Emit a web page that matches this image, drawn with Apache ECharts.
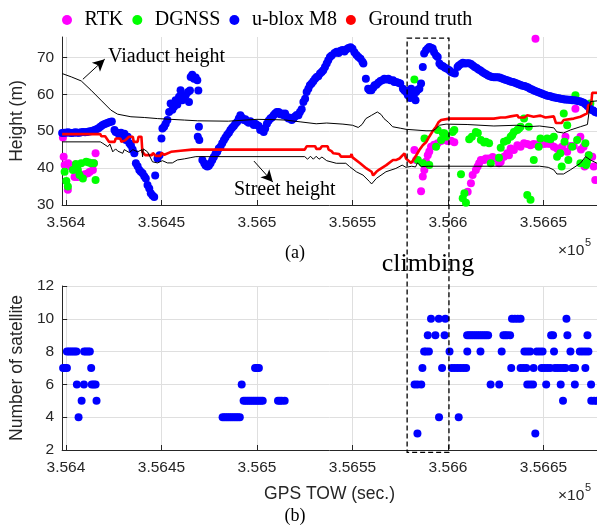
<!DOCTYPE html>
<html><head><meta charset="utf-8">
<script src="https://cdn.jsdelivr.net/npm/echarts@6/dist/echarts.min.js"></script>
<style>html,body{margin:0;padding:0;background:#fff}#c{width:597px;height:527px}</style>
</head><body><div id="c"></div>
<script>
const TOW_BASE = 356400;            // GPS TOW offset (s); data below are seconds after it
const xTickValues = [356400, 356450, 356500, 356550, 356600, 356650];
const heightTicks = [30, 40, 50, 60, 70];
const climbStart = 178.6, climbEnd = 200.5;   // climbing interval (s after base)

const rtk = [
[-1.6,48.3],[-1.2,43.1],[-0.7,40.8],[1,34.1],[1.2,41.3],[2.5,40.4],[3.6,40.6],[4.5,37.6],[5.5,37.6],[6.25,37.6],[7.3,37.8],[8.85,38.1],[9.9,38.3],[11.5,38.6],[12.5,39],[14.1,39.5],[14.6,41.3],[15.5,44],
[182.4,44.9],[183.3,42.2],[185.9,33.7],[186.8,37.7],[187.6,39.5],[188.5,41.8],[189.4,43.5],[190.2,44.5],[191.1,45.8],[192.7,46.3],[194.6,46.7],[196.4,47.3],[197.9,47.7],[199.8,47.3],[201.6,47.4],[203.3,47],
[210.3,33.6],[212,35.9],[212.9,38.1],[214.6,39.5],[215.5,40.4],[216.3,41.3],[217.2,42.2],[218.9,42.2],[219.8,42.6],[221.5,42.6],[223.4,43],[225.5,42.5],[226.7,41.3],[227.6,41.7],[229.3,43.1],[231,44],[231.9,43.5],[232.8,45.3],[234.5,44.9],[236.3,46.2],[238,45.8],[239.8,46.7],[241.5,46.5],[243.2,46.2],[244.8,46.5],[246.7,46.4],[248.4,47.1],[250.1,46.5],[251.9,46.6],[253.6,46.5],[255.4,45.8],[257.1,45.3],[258,44.9],[259.7,45.8],[261.5,48.5],[262.4,44.4],[264.1,46],[265.8,46],[266.7,56.1],[269.3,48.5],[269.6,45],[271,45.8],[271.5,40.4],[273.7,43.5],[275.5,43.1],[276.3,40.4],[277.1,36.8],[245.8,75]
];

const dgnss = [
[-2.1,41.7],[-0.7,39],[0.2,36.5],[1,35],[3.6,39.5],[5.2,41.1],[6.25,39.5],[7.1,38.1],[8,41.3],[8.85,37.2],[10.6,41.7],[12,41.5],[13.2,41.3],[14.6,41.3],[15.5,36.8],
[182.4,64],[184.2,42.2],[186.8,41.3],[187.7,48],[190.2,40.8],[193.75,45.8],[194.6,50.3],[196.4,47.6],[197.3,49.4],[198.1,49.4],[199,48.5],[202.4,49.8],[203.3,50.3],[206.8,38.3],[207.7,31.8],[208.6,33.2],[209.4,30.6],[211.1,47.8],[212.5,48.5],[214.6,49.8],[215.6,49.5],[217.2,47.6],[218.9,46.9],[219.8,47.1],[221.5,46.7],[222.4,41.3],[226.7,42.8],[227.6,45.5],[229.3,47.1],[231,47.5],[232.8,48.5],[233.6,48.9],[234.5,49.8],[236.3,50.3],[237.2,50.7],[238,51.2],[239.8,53.4],[241.5,32.7],[242.3,51.2],[243.2,31.4],[244.9,42.2],[247.5,45.8],[248.4,48],[251.9,48],[253.6,47.8],[255.4,48.5],[257.1,43.1],[258.8,44],[259.5,40.4],[260.6,54.8],[261,47.1],[262.4,51.6],[263,42.2],[265,45.8],[266.7,59.7],[267.6,47.6],[269.3,41.3],[271.9,46.7],[272.3,40.8],[272.8,41.7],[273.7,43.5],[274.5,57.5]
];

const ubloxM8 = [
[-2,49.5],[-1,49.6],[0,49.6],[1,49.7],[2,49.6],[3,49.5],[4,49.6],[5,49.7],[6,49.6],[7,49.6],[8,49.7],[9,49.8],[10,49.7],[11,49.8],[12,49.9],[13,50],[14,50.1],[15,50.3],[16,50.5],
[17,50.8],[18,51.2],[19,51.6],[20,51.9],[21,52.1],[22,52.3],[23,52.5],[24,52.6],
[25.4,50.3],[26,49.8],[27.1,49.5],[28.1,48.8],[28.8,49.6],[29.7,48.5],[30.6,49.3],[31.4,47.6],[32.3,48.5],[33.2,46.7],[34,46.2],[34.9,45],[35.8,44],[36.6,41.3],[37.5,40.5],[38.4,39.5],[39.2,39],[40.1,38.6],[41,37.8],[41.8,37.2],[42.7,35.4],[43.6,34.5],[44.4,33.2],[45.3,32.6],[46.2,32.2],[46.7,38],
[47.9,42.6],[49,43.5],[50,48],[50.5,50.7],[51.4,51.2],[52.2,52],[53.1,53],[54,55.2],[54.8,57.5],[55.7,55.8],[56.6,56.6],[57.4,58.4],[58.3,57.2],[59.2,59.3],[60,61.1],[60.9,58.4],[61.8,59.5],[62.7,59.7],[63.9,60.6],[64.4,57.9],[64.9,61],[65.3,64.7],[66.1,65.3],[67,64.2],[67.9,64.5],[68.75,63.8],[69.3,61],[69.6,51.2],[69,48.5],[69.8,47.6],
[71.4,42.2],[72.4,41.3],[73.1,40.7],[74,40.4],[74.8,40.6],[75.7,41.3],[76.6,42.2],[77.4,43],[78.3,43.9],[79.2,44.4],[80,45.3],[80.9,45.8],[81.8,46.7],[82.7,47.6],[83.5,48.3],[84.4,49],[85.3,49.6],[86.1,50.3],[87,50.9],[87.9,51.4],[88.7,52],[89.6,52.5],[90.5,53.4],[91.3,54.3],[92.2,53.6],[93.1,53],[93.9,53.2],[94.8,52.6],[95.7,52.3],[96.5,52.7],[97.4,52.3],[98.3,51.7],[99.1,52],[100,51.7],[100.9,51.4],[101.7,50.3],[102.6,50.6],[103.5,49.8],[104.3,50.7],[105.2,52],[106.1,52.8],[107,53.4],[107.8,53.7],[108.7,54.3],[109.5,54.8],[110.4,55.2],[111.3,55.2],[112.1,54.6],[113,54.8],[113.9,54.3],[114.7,54.8],[115.6,53.9],[116.5,53.4],[117.3,53.6],[118.2,53],[119.1,53.4],[119.9,54],[120.8,54.4],[121.7,54.3],[122.5,55.2],[123.4,55.9],[124.3,57.9],[125.2,58.8],[126,60.6],[126.9,61.5],[127.7,62.4],[128.6,62.9],[129.5,63.5],[130.4,64.2],[131.25,64.7],[132.1,64.9],[133,65.6],[133.9,66],[134.7,66.5],[135.6,67.4],[136.5,68.3],[137.3,69.2],[138.2,70.1],[139.1,70.5],
[140.6,71.2],[141.7,71.5],[142.7,71.2],[143.75,71.8],[144.8,72],[145.8,71.6],[146.9,72.2],[147.9,72.5],[149,72.7],[150,72.3],[151,71.4],[152.1,70.6],[153.1,70.1],[154.2,69.6],[155.2,68.8],[155.7,68.3],[157,64.2],[158.2,61.5],[158.9,61.1],[159.9,61.1],[160.9,61.8],[161.6,62.4],[162.5,62.6],[163.5,63.1],[164.6,63.6],[165.6,63.8],[166.7,64.2],[167.7,64],[168.75,64.2],[169.8,63.8],[171.2,63.8],[171.9,63.3],[172.9,63.3],[174,63.1],[175,62.9],[176.4,61.5],[177.2,61],[178.1,60.6],[179,59.7],[179.7,61],[180.2,59],[180.7,61.5],[181.6,60.2],[182,59.4],[183,58.4],[183.3,60.6],[184.2,61.2],[185,61.5],[185.9,62.9],[186.8,67.4],[187.5,71],[188.5,71.9],[189.4,72.4],[190.2,72.8],[191.1,72.6],[192,72.4],[192.7,71.4],[193.75,70.5],[194.6,70.1],[195.5,68.3],[196.4,67.8],[197.4,67.6],[198.4,67.2],[199.5,66.9],[200.7,66.5],[201.6,66],[202.6,65.8],[203.6,65.6],[205,67.4],[205.7,67.8],[206.8,68.2],[207.8,68.5],[208.9,68.3],
[210,68.4],[211,68.4],[212,68.2],[213,67.8],[214,67.4],[215,67.1],[216,66.7],[217,66.4],[218,66],[219,65.7],[220,65.4],[221,65.1],[222,64.9],[223,64.7],[224,64.6],[225,64.6],[226,64.6],[227,64.5],[228,64.3],[229,64.1],[230,63.9],[231,63.8],[232,63.6],[233,63.4],[234,63.3],[235,63.1],[236,62.9],[237,62.7],[238,62.5],[239,62.3],[240,62.2],[241,62],[242,61.8],[243,61.5],[244,61.3],[245,61],[246,60.8],[247,60.6],[248,60.4],[249,60.2],[250,60],[251,59.8],[252,59.6],[253,59.5],[254,59.4],[255,59.2],[256,59.1],[257,59],[258,58.9],[259,58.8],[260,58.7],[261,58.6],[262,58.6],[263,58.5],[264,58.5],[265,58.4],[266,58.4],[267,58.3],[268,58.2],[269,58.1],[270,57.9],[271,57.7],[272,57.3],[273,56.8],[274,56.3],[275,55.8],[276,55.6],[277,55.2],[278,55]
];

const groundTruth = [
[-2,49.2],[18,49.2],[18.5,48.6],[20.5,48.6],[21,49.1],[21.5,48.6],[22.5,47.1],[25.5,47.1],[26,48],[28.5,48],[29,47.1],[31,47.5],[32,47.1],[33,48.5],[35,48.5],[35.5,47.1],[37.5,47.1],[38,48.5],[39.5,48.5],[40,44.4],[41,44.4],[41.5,43.5],[45,43.5],[45.5,44.1],[46.5,44.1],[47,43.3],[49.5,43.3],[50,44.1],[51,44.1],[51.5,43.6],[55,44.4],[60,44.7],[66,45],[125,45],[126,45.9],[130.5,45.9],[131,45.2],[133,45.2],[134,45.9],[137,45.9],[137.5,45],[139,44.6],[140,44],[143,43.8],[144,43.1],[149,43.1],[149.5,43.8],[150,42.9],[151,42.6],[154,41.3],[157.3,39.9],[160,39],[160.8,38],[162.5,39],[164,39.6],[167.7,40.8],[171.2,42.2],[173,42.2],[174.6,42.6],[177.2,44],[178,42.6],[179,42.6],[180.7,41.4],[182.4,42.6],[185,44.9],[186.8,46.2],[188.5,47],[190.2,48.5],[192,50],[193.75,51.2],[195,52.4],[196.4,53],[200.7,53.4],[224,53.4],[227.6,53.7],[230,53.7],[232.8,54],[236.3,54.3],[237,53.7],[240,53.7],[241.5,54.3],[244.8,53.9],[248.4,54.2],[251,53.7],[255.4,54],[256.5,52.2],[259.5,52.2],[260.6,53],[265.8,53.4],[269.3,53.9],[272.8,54.8],[273.4,57],[275,57.4],[275.5,60.4],[278,60.4]
];

const viaductHeight = [
[-2,65.6],[2.8,64.7],[8,63.6],[13.1,61.1],[18.3,58.4],[23.5,55.7],[27,54.6],[34,53.9],[41,53.7],[48,53.4],[55,53.2],[62,53.0],[69,52.8],[85,52.7],[100,53.2],[110,53.1],[115,53],[123,52.5],[131,52.0],[136.5,52.2],[145,51.9],[150,51.6],[153,51.0],[155,51.8],[157,53.4],[160,54.3],[163,55.2],[165,54.5],[166.5,53.4],[169,52.3],[171,51.2],[175,50.8],[178,50.5],[188.5,50.1],[192,50.1],[193.5,50.6],[195.5,51.6],[199,51.9],[210,51.8],[224,51.4],[236,51.6],[241.5,51.2],[248,51.4],[255.4,50.9],[257,49.8],[260.5,49.5],[264,50.3],[269.3,51.2],[273,51.8],[274.5,58],[278,58.2]
];

const streetHeight = [
[-2,47.1],[18,47.1],[19.3,46.7],[21.9,45.8],[23,46.5],[24.5,44.4],[26,45.2],[27.1,44.6],[29.7,44],[30.5,45],[33.2,44.2],[35,45],[37.5,44.4],[39.8,45],[40.1,43],[40.5,45.2],[42.7,44.4],[45.3,41.7],[47.9,41.4],[50.5,42],[53.1,41.4],[55.7,41.4],[58.3,42.2],[62,42.5],[65,42.8],[68,43.1],[125,43.1],[126.5,42.4],[128,43.2],[129.5,42.4],[131,43.2],[132.5,42.4],[134,43],[136.5,42],[141.5,41.3],[146.5,41.3],[148.5,40.4],[152,39],[155.5,38.1],[159,36.3],[160,35.7],[162.5,37.2],[167.5,39],[172.7,39.9],[176,40.8],[178,40.2],[181,40.5],[183,40.3],[184,41.4],[186,40.4],[190,40.5],[248,40.5],[252.5,40.2],[255.4,39.5],[257,38.4],[260.5,38.4],[264,39.5],[269.3,41.3],[272,43.1],[274.5,42.2],[278,41.3]
];

const satellites = [
[-2.5,7],[-1.5,7],[-0.5,7],[0.5,7],[13.2,7],
[0.5,8],[1.5,8],[2.5,8],[3.5,8],[4.5,8],[5.5,8],[9.5,8],[10.5,8],[11.5,8],[12.5,8],
[5.7,6],[9.4,6],[13.5,6],[14.5,6],[15.5,6],[8.2,5],[16,5],[6.6,4],
[82,4],[83,4],[84,4],[85,4],[86,4],[87,4],[88,4],[89,4],[90,4],[91,4],[92,6],
[93,5],[94,5],[95,5],[96,5],[97,5],[98,5],[99,5],[100,5],[101,5],[102,5],[103,5],[111,5],[112,5],[113,5],[114.5,5],
[99,7],[100,7],[101,7],
[191.1,10],[195.2,10],[198.6,10],[233.5,10],[235,10],[236.5,10],[238,10],[262,10],
[189.4,9],[193.4,9],[198.2,9],[210,9],[211,9],[212,9],[213,9],[214,9],[215,9],[216,9],[217,9],[218,9],[219,9],[220,9],[221,9],[229,9],[230,9],[231,9],[232.5,9],[254,9],[255,9],[262.5,9],[273,9],
[187.5,8],[188.5,8],[190,8],[200.8,8],[210.1,8],[217,8],[228.1,8],[240,8],[241.5,8],[243,8],[246.5,8],[248,8],[249.5,8],[255.5,8],[264.1,8],[269,8],[270.5,8],[272,8],[273.5,8],
[186.6,7],[196.9,7],[202,7],[203.5,7],[205,7],[206.5,7],[208,7],[209.5,7],[233.1,7],[238,7],[239.5,7],[241,7],[244.8,7],[249,7],[250.5,7],[252,7],[253.5,7],[256,7],[257.5,7],[259,7],[260.5,7],[261.5,7],[265,7],[266.5,7],[271.9,7],
[182.5,6],[184,6],[186,6],[222.3,6],[226.8,6],[241.5,6],[243,6],[244.5,6],[251.4,6],[259,6],[266.4,6],[274.9,6],
[260.2,5],[275,5],[276.5,5],[278,5],
[195.3,4],[205.6,4],[184,3],[245.7,3]
];

const abs = arr => arr.map(([t, v]) => [TOW_BASE + t, v]);
const SANS = 'Liberation Sans', SERIF = 'Liberation Serif';
const INK = '#262626', GRIDC = '#dfdfdf';

function xAxisCfg(gridIndex, extra) {
  return Object.assign({
    type: 'value', gridIndex, min: TOW_BASE - 2, max: TOW_BASE + 278,
    axisLine: { show: true, onZero: false, lineStyle: { color: INK, width: 1 } },
    axisTick: { show: true, inside: true, length: 5, customValues: xTickValues, lineStyle: { color: INK } },
    axisLabel: { customValues: xTickValues, color: INK, fontSize: 15.5, fontFamily: SANS, margin: 10,
      formatter: v => String(+(v / 1e5).toFixed(4)) },
    splitLine: { show: true, lineStyle: { color: GRIDC, width: 1 } }
  }, extra || {});
}
function yAxisCfg(gridIndex, extra) {
  return Object.assign({
    type: 'value', gridIndex,
    axisLine: { show: true, lineStyle: { color: INK, width: 1 } },
    axisTick: { show: true, inside: true, length: 5, lineStyle: { color: INK } },
    axisLabel: { color: INK, fontSize: 15.5, fontFamily: SANS, margin: 8 },
    splitLine: { show: true, lineStyle: { color: GRIDC, width: 1 } },
    nameLocation: 'middle', nameGap: 29,
    nameTextStyle: { color: INK, fontSize: 17.5, fontFamily: SANS }
  }, extra || {});
}

const chart = echarts.init(document.getElementById('c'), null, { renderer: 'canvas' });
const dot = (name, color, data, z) => ({
  name, type: 'scatter', xAxisIndex: 0, yAxisIndex: 0, data: abs(data),
  symbol: 'circle', symbolSize: 8, itemStyle: { color, opacity: 1 }, z, silent: true
});
const arrowLine = (from, to) => ({
  silent: true, symbol: ['none', 'arrow'], symbolSize: [9, 12],
  lineStyle: { color: '#000', width: 1, type: 'solid' }, label: { show: false },
  data: [[{ coord: [TOW_BASE + from[0], from[1]] }, { coord: [TOW_BASE + to[0], to[1]] }]]
});

chart.setOption({
  animation: false,
  backgroundColor: '#fff',
  grid: [
    { left: 59, right: 0, top: 37, height: 168, containLabel: false },
    { left: 59, right: 0, top: 286, height: 164, containLabel: false }
  ],
  legend: {
    left: 57, top: 5, itemWidth: 25, itemHeight: 10, itemGap: 9,
    textStyle: { fontFamily: SERIF, fontSize: 20, color: '#000' },
    data: [
      { name: 'RTK', icon: 'circle' }, { name: 'DGNSS', icon: 'circle' },
      { name: 'u-blox M8', icon: 'circle' }, { name: 'Ground truth', icon: 'circle' }
    ]
  },
  xAxis: [
    xAxisCfg(0),
    xAxisCfg(1, { name: 'GPS TOW (sec.)', nameLocation: 'middle', nameGap: 35,
      nameTextStyle: { color: INK, fontSize: 17.5, fontFamily: SANS } })
  ],
  yAxis: [
    yAxisCfg(0, { min: 30, max: 75.5, name: 'Height (m)',
      axisTick: { show: true, inside: true, length: 5, customValues: heightTicks, lineStyle: { color: INK } },
      axisLabel: { customValues: heightTicks, color: INK, fontSize: 15.5, fontFamily: SANS, margin: 8 } }),
    yAxisCfg(1, { min: 2, max: 12, interval: 2, name: 'Number of satellite' })
  ],
  series: [
    dot('RTK', '#ff00ff', rtk, 2),
    dot('DGNSS', '#00ff00', dgnss, 3),
    dot('u-blox M8', '#0000ff', ubloxM8, 4),
    { name: 'Ground truth', type: 'line', xAxisIndex: 0, yAxisIndex: 0, data: abs(groundTruth),
      showSymbol: false, symbol: 'circle', itemStyle: { color: '#ff0000' },
      lineStyle: { color: '#ff0000', width: 2.6 }, z: 5, silent: true },
    { name: 'Viaduct height', type: 'line', xAxisIndex: 0, yAxisIndex: 0, data: abs(viaductHeight),
      showSymbol: false, lineStyle: { color: '#000', width: 1 }, z: 6, silent: true,
      markLine: arrowLine([8.85, 64.05], [20.3, 69.5]) },
    { name: 'Street height', type: 'line', xAxisIndex: 0, yAxisIndex: 0, data: abs(streetHeight),
      showSymbol: false, lineStyle: { color: '#000', width: 1 }, z: 6, silent: true,
      markLine: arrowLine([98.4, 41.9], [108.3, 36.2]) },
    { name: 'Satellites', type: 'scatter', xAxisIndex: 1, yAxisIndex: 1, data: abs(satellites),
      symbol: 'circle', symbolSize: 8, itemStyle: { color: '#0000ff', opacity: 1 }, silent: true }
  ]
});

const pL = chart.convertToPixel({ gridIndex: 0 }, [TOW_BASE + climbStart, 75.2]);
const pR = chart.convertToPixel({ gridIndex: 0 }, [TOW_BASE + climbEnd, 75.2]);
const pB = chart.convertToPixel({ gridIndex: 1 }, [TOW_BASE + climbEnd, 1.85]);
const txt = (text, x, y, font, align) => ({
  type: 'text', silent: true,
  style: { text, x, y, font, fill: '#000', align: align || 'left', verticalAlign: 'middle' }
});
chart.setOption({
  graphic: [
    { type: 'rect', silent: true, shape: { x: pL[0], y: pL[1], width: pR[0] - pL[0], height: pB[1] - pL[1] },
      style: { fill: 'none', stroke: '#000', lineWidth: 1.3, lineDash: [5, 3] }, z: 100 },
    txt('Viaduct height', 108, 57, '20px "Liberation Serif"'),
    txt('Street height', 234, 190, '20px "Liberation Serif"'),
    txt('climbing', 428, 264, '26px "Liberation Serif"', 'center'),
    txt('(a)', 295, 253, '18px "Liberation Serif"', 'center'),
    txt('(b)', 295, 516, '18px "Liberation Serif"', 'center'),
    { type: 'text', silent: true, style: { text: '×10', x: 558, y: 251, font: '15.5px "Liberation Sans"', fill: INK, verticalAlign: 'middle' } },
    { type: 'text', silent: true, style: { text: '5', x: 585, y: 243, font: '11px "Liberation Sans"', fill: INK, verticalAlign: 'middle' } },
    { type: 'text', silent: true, style: { text: '×10', x: 558, y: 496, font: '15.5px "Liberation Sans"', fill: INK, verticalAlign: 'middle' } },
    { type: 'text', silent: true, style: { text: '5', x: 585, y: 488, font: '11px "Liberation Sans"', fill: INK, verticalAlign: 'middle' } }
  ]
});
</script></body></html>
